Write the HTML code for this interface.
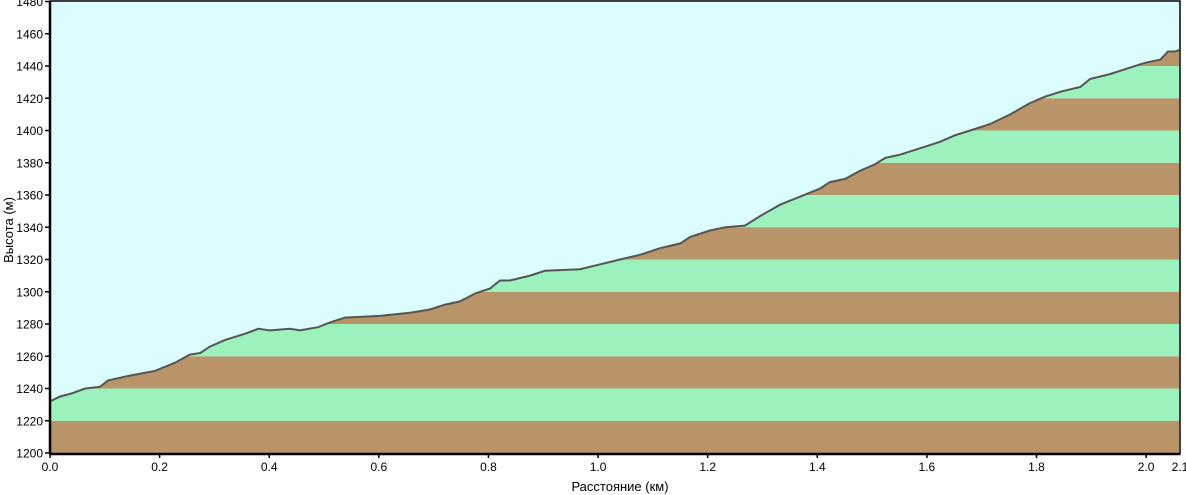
<!DOCTYPE html>
<html><head><meta charset="utf-8"><style>
body{margin:0;background:#fff;}
svg{display:block;font-family:"Liberation Sans",sans-serif;}
</style></head><body>
<svg id="c" width="1186" height="495"></svg>
<script>
const distances=[0,.018,.040,.064,.091,.106,.146,.192,.228,.255,.274,.292,.319,.356,.380,.401,.438,.456,.489,.511,.538,.602,.657,.693,.721,.748,.776,.803,.821,.839,.876,.903,.967,1.004,1.040,1.077,1.113,1.150,1.168,1.204,1.232,1.268,1.296,1.332,1.369,1.405,1.423,1.451,1.478,1.505,1.524,1.551,1.588,1.624,1.651,1.679,1.715,1.752,1.788,1.816,1.843,1.880,1.898,1.934,1.971,1.998,2.026,2.040,2.053,2.060];
const elevations=[1232,1235,1237,1240,1241,1245,1248,1251,1256,1261,1262,1266,1270,1274,1277,1276,1277,1276,1278,1281,1284,1285,1287,1289,1292,1294,1299,1302,1307,1307,1310,1313,1314,1317,1320,1323,1327,1330,1334,1338,1340,1341,1347,1354,1359,1364,1368,1370,1375,1379,1383,1385,1389,1393,1397,1400,1404,1410,1417,1421,1424,1427,1432,1435,1439,1442,1444,1449,1449,1450];
const yTicks=[1200,1220,1240,1260,1280,1300,1320,1340,1360,1380,1400,1420,1440,1460,1480];
const xTicks=[0,0.2,0.4,0.6,0.8,1.0,1.2,1.4,1.6,1.8,2.0];
const xTickLabels=["0.0","0.2","0.4","0.6","0.8","1.0","1.2","1.4","1.6","1.8","2.0"];
const xMax=2.06;
const X0=50,X1=1179,Y0=453,Y1=1.5;
const sx=d=>X0+(d/xMax)*(X1-X0);
const sy=e=>Y0-(e-1200)/280*(Y0-Y1);
const svg=document.getElementById('c');
const NS='http://www.w3.org/2000/svg';
function mk(t,a,p){const e=document.createElementNS(NS,t);for(const k in a)e.setAttribute(k,a[k]);(p||svg).appendChild(e);return e;}
const bg=mk('rect',{x:X0,y:Y1,width:X1-X0,height:Y0-Y1,fill:'#dbfdfd'});


const defs=mk('defs',{});
const cp=mk('clipPath',{id:'terrain'},defs);
let pts=distances.map((d,i)=>sx(d).toFixed(1)+','+sy(elevations[i]).toFixed(1));
mk('polygon',{points:sx(0)+','+Y0+' '+pts.join(' ')+' '+sx(distances[distances.length-1])+','+Y0},cp);
const g=mk('g',{'clip-path':'url(#terrain)'});


for(let i=0;i<yTicks.length-1;i++){
  const r=mk('rect',{x:X0,y:sy(yTicks[i+1]),width:X1-X0,height:sy(yTicks[i])-sy(yTicks[i+1]),fill:i%2==0?'#b99468':'#9cf2bd'},g);
  
  
}
const line=mk('polyline',{points:pts.join(' '),fill:'none',stroke:'#555','stroke-width':2});


mk('rect',{x:X0,y:1,width:X1-X0+1,height:Y0,fill:'none',stroke:'#000','stroke-width':1.5});
mk('line',{x1:X0,y1:1,x2:X0,y2:Y0+1,stroke:'#000','stroke-width':2.5});
mk('line',{x1:X0,y1:Y0+1,x2:X1+1,y2:Y0+1,stroke:'#000','stroke-width':2.5});
yTicks.forEach(v=>{
  mk('line',{x1:X0-5,x2:X0,y1:sy(v),y2:sy(v),stroke:'#000','stroke-width':1.5});
  const t=mk('text',{x:X0-7,y:sy(v)+4.5,'text-anchor':'end','font-size':12,fill:'#000'});
  t.textContent=v;
  
  
});
xTicks.forEach((v,i)=>{
  mk('line',{x1:sx(v),x2:sx(v),y1:Y0,y2:Y0+5,stroke:'#000','stroke-width':1.5});
  const t=mk('text',{x:sx(v),y:471,'text-anchor':'middle','font-size':12,fill:'#000'});
  t.textContent=xTickLabels[i];
  
  
});
const te=mk('text',{x:X1+1,y:471,'text-anchor':'middle','font-size':12,fill:'#000'});
te.textContent='2.1';


const xt=mk('text',{x:620,y:491,'text-anchor':'middle','font-size':13,fill:'#000','xml:space':'preserve'});
xt.textContent='Расстояние  (км)';


const yt=mk('text',{x:0,y:0,'text-anchor':'middle','font-size':13,fill:'#000',transform:'translate(13,230) rotate(-90)'});
yt.textContent='Высота (м)';


</script>
</body></html>
